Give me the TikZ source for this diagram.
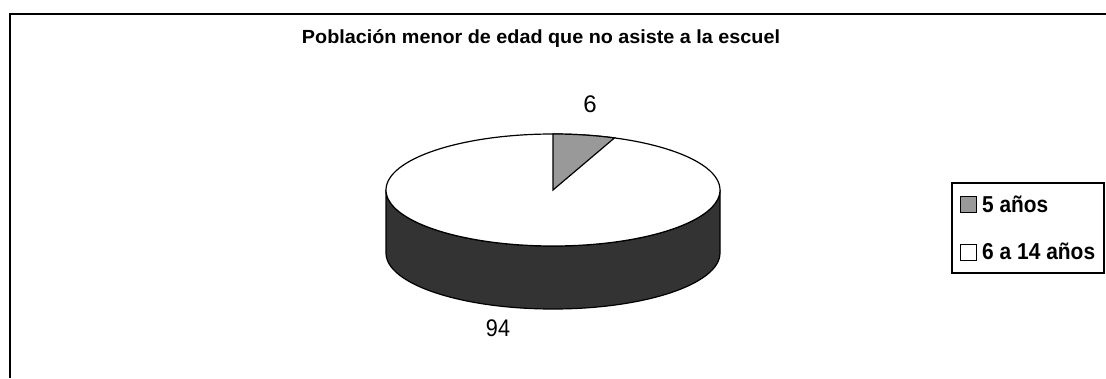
\documentclass[tikz,border=0pt]{standalone}
\usepackage{fontspec}
\setmainfont{Liberation Sans}
\begin{document}
\begin{tikzpicture}[x=1pt,y=1pt,
  lbl/.style={inner sep=0pt,font=\fontsize{24}{24}\selectfont},
  legtext/.style={inner sep=0pt,anchor=base west,font=\fontsize{23}{23}\selectfont\bfseries},
  legmark/.style={draw=black,line width=1pt}]
\useasboundingbox (0,0) rectangle (1106,378);
% frame
\draw[line width=2pt] (10,0) -- (10,364) -- (1106,364);
% title
\node[inner sep=0pt,anchor=base,font=\fontsize{19}{19}\selectfont\bfseries] (title) at (541,334)
  {\resizebox{478pt}{\height}{Población menor de edad que no asiste a la escuel}};
% pie side
\def\rx{167}\def\ry{56}
\fill[black!80,draw=black,line width=1.2pt] (386,188) -- (386,125)
  arc[start angle=180,end angle=360,x radius=\rx,y radius=\ry] -- (720,188)
  arc[start angle=0,end angle=-180,x radius=\rx,y radius=\ry] -- cycle;
% top face
\draw[fill=white,line width=1.2pt] (553,188) ellipse[x radius=\rx,y radius=\ry];
% wedge 6%
\draw[fill=black!40,line width=1.2pt] (553,188) -- (553,244)
  arc[start angle=90,end angle=68.4,x radius=\rx,y radius=\ry] -- cycle;
% data labels
\node[lbl,anchor=base] (l6) at (590,265) {6};
\node[lbl,anchor=base] (l94) at (498,42) {\scalebox{0.9}[1]{94}};
% legend
\draw[line width=1.5pt] (952,195) rectangle (1104,105);
\draw[legmark,fill=black!40] (960,181) rectangle (976,165);
\node[legtext] (t1) at (982,165) {\resizebox{66pt}{\height}{5 años}};
\draw[legmark,fill=white] (960,134) rectangle (976,118);
\node[legtext] (t2) at (982,118) {\resizebox{113pt}{\height}{6 a 14 años}};
\end{tikzpicture}
\end{document}
